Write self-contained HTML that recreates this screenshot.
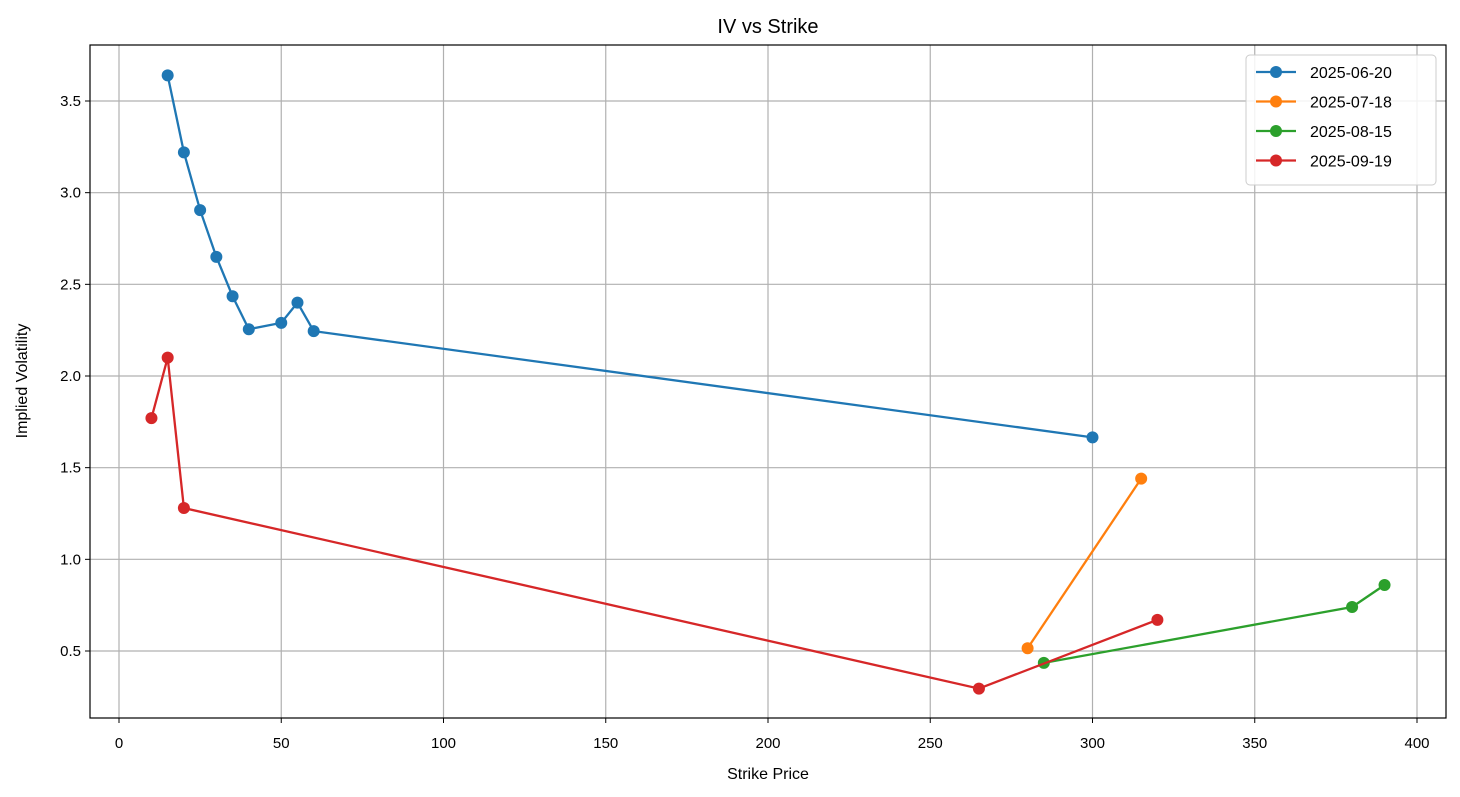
<!DOCTYPE html>
<html><head><meta charset="utf-8"><style>
html,body{margin:0;padding:0;background:#fff;}
svg{display:block;font-family:"Liberation Sans","DejaVu Sans",sans-serif;}
</style></head><body>
<svg id="chart" width="1460" height="797" viewBox="0 0 1460 797" xmlns="http://www.w3.org/2000/svg">
<rect x="0" y="0" width="1460" height="797" fill="#fff"/>
<text x="768" y="33" text-anchor="middle" font-size="20" fill="#000">IV vs Strike</text>
<text x="768" y="779" text-anchor="middle" font-size="16" fill="#000">Strike Price</text>
<text transform="translate(27,381) rotate(-90)" text-anchor="middle" font-size="16" fill="#000">Implied Volatility</text>
<g id="grid"></g><g id="series"></g><g id="axes"></g><g id="legend"></g>
</svg>
<script>
const xTicks = [0,50,100,150,200,250,300,350,400];
const yTicks = [0.5,1.0,1.5,2.0,2.5,3.0,3.5];
const seriesNames = ["2025-06-20","2025-07-18","2025-08-15","2025-09-19"];
const seriesColors = ["#1f77b4","#ff7f0e","#2ca02c","#d62728"];
const s1x = [15,20,25,30,35,40,50,55,60,300];
const s1y = [3.64,3.22,2.905,2.65,2.435,2.255,2.29,2.40,2.245,1.665];
const s2x = [280,315];
const s2y = [0.515,1.44];
const s3x = [285,380,390];
const s3y = [0.435,0.74,0.86];
const s4x = [10,15,20,265,320];
const s4y = [1.77,2.10,1.28,0.295,0.67];

const L=90,R=1446,T=45,B=718;
const X=v=>119+(v-0)*(1417-119)/400;
const Y=v=>651-(v-0.5)*(651-101)/3.0;
const NS="http://www.w3.org/2000/svg";
function mk(tag,attrs,parent){const e=document.createElementNS(NS,tag);for(const k in attrs)e.setAttribute(k,attrs[k]);parent.appendChild(e);return e;}
const grid=document.getElementById('grid'),axes=document.getElementById('axes'),ser=document.getElementById('series'),leg=document.getElementById('legend');

xTicks.forEach(t=>{
  const g=mk('line',{x1:X(t),x2:X(t),y1:T,y2:B,stroke:'#b0b0b0','stroke-width':1.2},grid);
  
  
  mk('line',{x1:X(t),x2:X(t),y1:B,y2:B+5,stroke:'#000','stroke-width':1},axes);
  const tx=mk('text',{x:X(t),y:B+30,'text-anchor':'middle','font-size':15,fill:'#000'},axes);
  tx.textContent=t;
  
  
});
yTicks.forEach(t=>{
  const g=mk('line',{x1:L,x2:R,y1:Y(t),y2:Y(t),stroke:'#b0b0b0','stroke-width':1.2},grid);
  
  
  mk('line',{x1:L-5,x2:L,y1:Y(t),y2:Y(t),stroke:'#000','stroke-width':1},axes);
  const tx=mk('text',{x:L-9,y:Y(t)+5,'text-anchor':'end','font-size':15,fill:'#000'},axes);
  tx.textContent=t.toFixed(1);
  
  
});
const frame=mk('rect',{x:L,y:T,width:R-L,height:B-T,fill:'none',stroke:'#000','stroke-width':1.2},axes);



const allX=[s1x,s2x,s3x,s4x],allY=[s1y,s2y,s3y,s4y];
allX.forEach((xs,i)=>{
  const ys=allY[i];
  const pl=mk('polyline',{points:xs.map((x,j)=>X(x)+','+Y(ys[j])).join(' '),fill:'none',stroke:seriesColors[i],'stroke-width':2.3},ser);
  
  
  xs.forEach((x,j)=>{
    const c=mk('circle',{cx:X(x),cy:Y(ys[j]),r:6,fill:seriesColors[i]},ser);
    
    
  });
});

const lb=mk('rect',{x:1246,y:55,width:190,height:130,rx:4,fill:'#fff','fill-opacity':0.85,stroke:'#cccccc','stroke-width':1},leg);


seriesNames.forEach((n,i)=>{
  const y=72+i*29.5;
  const l=mk('line',{x1:1256,x2:1296,y1:y,y2:y,stroke:seriesColors[i],'stroke-width':2.3},leg);
  
  
  const c=mk('circle',{cx:1276,cy:y,r:6,fill:seriesColors[i]},leg);
  
  
  const t=mk('text',{x:1310,y:y+6,'font-size':16,fill:'#000'},leg);
  t.textContent=n;
  
  
});
</script>
</body></html>
